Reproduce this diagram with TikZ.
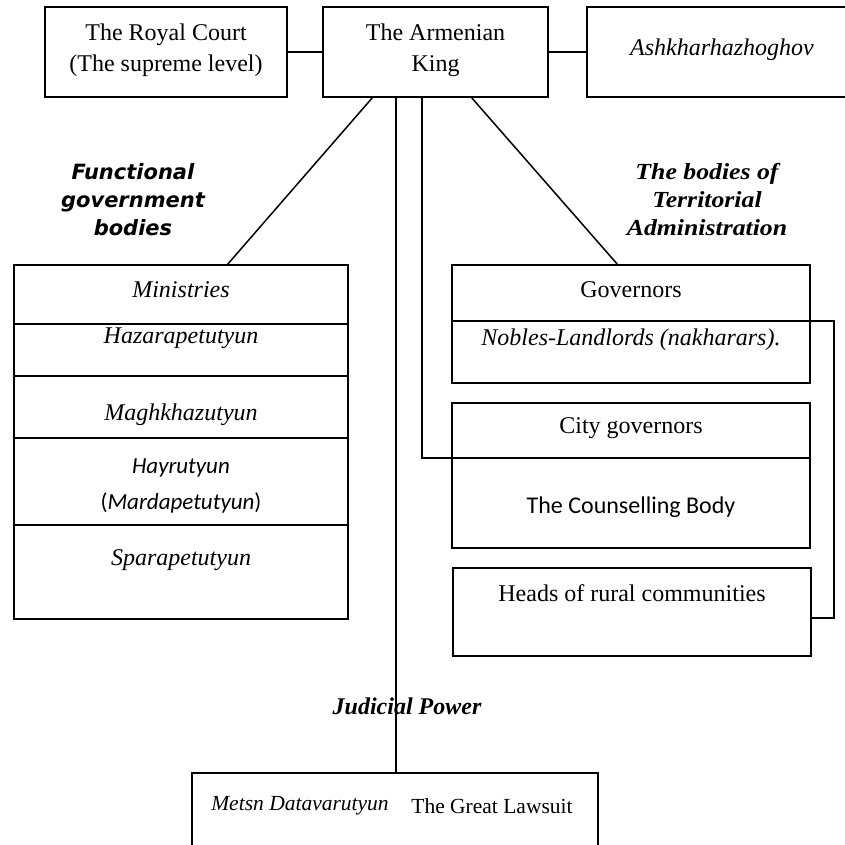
\documentclass[tikz,border=0pt]{standalone}
\usepackage{fontspec}
\setmainfont{Liberation Serif}
\newfontfamily\calfont{Carlito}
\newfontfamily\verdfont{DejaVu Sans}
\newfontfamily\cambfont[FakeStretch=1.12]{Liberation Serif}
\begin{document}
\begin{tikzpicture}[x=1pt,y=-1pt,
  box/.style={draw,line width=1.5pt,anchor=north west,inner sep=0pt,outer sep=0pt},
  lbl/.style={inner sep=0pt,align=center,font=\fontsize{24}{31}\selectfont},
  link/.style={line width=1.5pt}]
\useasboundingbox (0,0) rectangle (844,845);
% top row
\node[box,minimum width=242pt,minimum height=90pt] (royal) at (45,7) {};
\node[box,minimum width=225pt,minimum height=90pt] (king) at (323,7) {};
\node[box,minimum width=280pt,minimum height=90pt] (ashk) at (587,7) {};
\node[lbl] (royalT) at (166,50) {The Royal Court\\(The supreme level)};
\node[lbl] (kingT) at (435.5,50) {The Armenian\\King};
\node[lbl,font=\fontsize{24}{31}\selectfont\itshape] (ashkT) at (722,50) {Ashkharhazhoghov};
% left column
\node[box,minimum width=334pt,minimum height=59pt] (min1) at (14,265) {};
\node[box,minimum width=334pt,minimum height=52pt] (min2) at (14,324) {};
\node[box,minimum width=334pt,minimum height=62pt] (min3) at (14,376) {};
\node[box,minimum width=334pt,minimum height=87pt] (min4) at (14,438) {};
\node[box,minimum width=334pt,minimum height=94pt] (min5) at (14,525) {};
\node[lbl,font=\fontsize{24}{31}\selectfont\itshape] (t1) at (181,290) {Ministries};
\node[lbl,font=\fontsize{24}{31}\selectfont\itshape] (t2) at (181,338) {Hazarapetutyun};
\node[lbl,font=\fontsize{24}{31}\selectfont\itshape] (t3) at (181,415) {Maghkhazutyun};
\node[lbl,font=\fontsize{23}{31}\selectfont\calfont] (t4) at (181,468) {\itshape Hayrutyun};
\node[lbl,font=\fontsize{23}{31}\selectfont\calfont] (t5) at (181,503) {(\textit{Mardapetutyun})};
\node[lbl,font=\fontsize{24}{31}\selectfont\itshape] (t6) at (181,560) {Sparapetutyun};
% right column
\node[box,minimum width=358pt,minimum height=56pt] (gov1) at (452,265) {};
\node[box,minimum width=358pt,minimum height=62pt] (gov2) at (452,321) {};
\node[box,minimum width=358pt,minimum height=55pt] (city1) at (452,403) {};
\node[box,minimum width=358pt,minimum height=90pt] (city2) at (452,458) {};
\node[box,minimum width=358pt,minimum height=88pt] (heads) at (453,568) {};
\node[lbl] (g1) at (631,290) {Governors};
\node[lbl,font=\fontsize{24}{31}\selectfont\itshape] (g2) at (631,340) {Nobles-Landlords (nakharars).};
\node[lbl] (c1) at (631,428) {City governors};
\node[lbl,font=\fontsize{24}{31}\selectfont\calfont] (c2) at (631,507) {The Counselling Body};
\node[lbl] (h1) at (632,593) {Heads of rural communities};
% judicial
\node[box,minimum width=406pt,minimum height=120pt] (metsn) at (192,773) {};
\node[lbl,font=\fontsize{21.5}{28}\selectfont\itshape] (m1) at (300,806) {Metsn Datavarutyun};
\node[lbl,font=\fontsize{21.5}{28}\selectfont] (m2) at (492,806) {The Great Lawsuit};
% headings
\node[lbl,font=\fontsize{21}{28}\selectfont\verdfont\bfseries\itshape] (func) at (133,200) {Functional\\government\\bodies};
\node[lbl,font=\fontsize{23}{28}\selectfont\cambfont\bfseries\itshape] (terr) at (707,200) {The bodies of\\Territorial\\Administration};
\node[lbl,font=\fontsize{24}{28}\selectfont\bfseries\itshape] (jud) at (407,706) {Judicial Power};
% connectors
\coordinate (kA) at (373,97);
\coordinate (kB) at (396,97);
\coordinate (kC) at (422,97);
\coordinate (kD) at (471,97);
\coordinate (minTop) at (227,265);
\coordinate (govTop) at (618,265);
\coordinate (metsTop) at (396,773);
\coordinate (bendC) at (422,458);
\coordinate (brA) at (834,321);
\coordinate (brB) at (834,618);
\coordinate (headsR) at (811,618);
\draw[link] (royal.east) -- (king.west);
\draw[link] (king.east) -- (ashk.west);
\draw[link] (kA) -- (minTop);
\draw[link] (kD) -- (govTop);
\draw[link] (kB) -- (metsTop);
\draw[link] (kC) -- (bendC) -- (city2.north west);
\draw[link] (gov2.north east) -- (brA) -- (brB) -- (headsR);
\end{tikzpicture}
\end{document}
